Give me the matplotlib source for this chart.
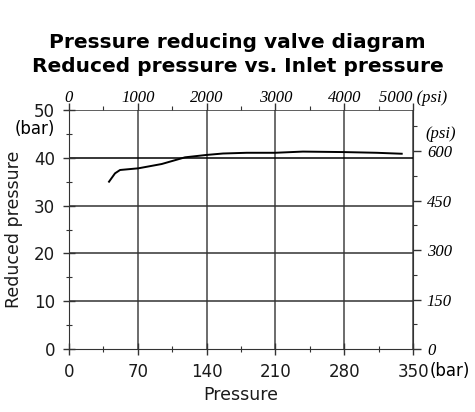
import matplotlib
matplotlib.use("Agg")
import matplotlib.pyplot as plt
import numpy as np

# inlet pressure (bar) vs reduced pressure (bar)
inlet_bar = [40.7, 46.8, 51.9, 70.5, 94.3, 118, 140, 156.7, 180.8, 209.6, 238, 279, 313, 338.5]
reduced_bar = [35.0, 36.75, 37.45, 37.8, 38.7, 40.1, 40.6, 40.9, 41.05, 41.05, 41.3, 41.2, 41.05, 40.85]

x_ticks = [0, 70, 140, 210, 280, 350]
y_ticks = [0, 10, 20, 30, 40, 50]
psi_top_ticks = [0, 1000, 2000, 3000, 4000, 5000]
psi_right_ticks = [0, 150, 300, 450, 600]

BAR_TO_PSI_TOP = 1000 / 70
BAR_TO_PSI = 14.5

serif_it = dict(family="Liberation Serif", style="italic", size=12)

fig = plt.figure(figsize=(4.75, 4.12), dpi=100)
ax = fig.add_axes([0.1453, 0.1529, 0.7242, 0.5801])

ax.plot(inlet_bar, reduced_bar, color="black", lw=1.4, zorder=3)

ax.set_xlim(0, 350)
ax.set_ylim(0, 50)
ax.set_xticks(x_ticks)
ax.set_xticks(np.arange(35, 350, 70), minor=True)
ax.set_yticks(y_ticks)
ax.set_yticks(np.arange(5, 50, 10), minor=True)
ax.set_xticklabels([str(v) for v in x_ticks], fontsize=12, color="#1a1a1a")
ax.set_yticklabels([str(v) for v in y_ticks], fontsize=12, color="#1a1a1a")
ax.tick_params(which="major", direction="inout", length=8, width=1, color="#333333")
ax.tick_params(axis="x", which="major", pad=6)
ax.tick_params(axis="y", which="major", pad=6)
ax.tick_params(which="minor", direction="inout", length=4, width=0.8, color="#333333")

for s in ["top", "right"]:
    ax.spines[s].set_visible(False)
for s in ["left", "bottom"]:
    ax.spines[s].set_color("#333333")

# grid
for v in x_ticks[1:]:
    ax.axvline(v, color="#444444", lw=1.1, zorder=1)
for v in y_ticks[1:]:
    ax.axhline(v, color="black" if v == 40 else "#333333", lw=1.1, zorder=1)

# top psi axis
top = ax.secondary_xaxis("top", functions=(lambda b: b * BAR_TO_PSI_TOP, lambda p: p / BAR_TO_PSI_TOP))
top.set_xticks(psi_top_ticks)
top.set_xticks(np.arange(500, 5000, 1000), minor=True)
top.set_xticklabels(["0", "1000", "2000", "3000", "4000", "5000 (psi)"], **serif_it)
top.spines["top"].set_visible(False)
top.tick_params(which="major", direction="out", length=5, width=1, color="#333333", pad=-2)
top.tick_params(which="minor", direction="out", length=3, width=0.8, color="#333333")

# right psi axis
right = ax.secondary_yaxis("right", functions=(lambda b: b * BAR_TO_PSI, lambda p: p / BAR_TO_PSI))
right.set_yticks(psi_right_ticks)
right.set_yticks(np.arange(75, 700, 150), minor=True)
right.set_yticklabels([str(v) for v in psi_right_ticks], **serif_it)
right.spines["right"].set_color("#333333")
right.tick_params(which="major", direction="out", length=6, width=1, color="#333333", pad=4)
right.tick_params(which="minor", direction="out", length=3, width=0.8, color="#333333")
ax.text(1.035, 0.9, "(psi)", transform=ax.transAxes, ha="left", va="center", **serif_it)

ax.text(-0.04, 0.92, "(bar)", transform=ax.transAxes, ha="right", va="center", fontsize=12,
        color="black")
ax.text(1.049, -0.09, "(bar)", transform=ax.transAxes, ha="left", va="center", fontsize=12,
        color="black")

ax.set_xlabel("Pressure", fontsize=12.5, color="#1a1a1a", labelpad=4)
ax.set_ylabel("Reduced pressure", fontsize=12.5, color="#1a1a1a", labelpad=8)

fig.suptitle("Pressure reducing valve diagram\nReduced pressure vs. Inlet pressure",
             fontsize=14.5, fontweight="bold", y=0.92, linespacing=1.35)

fig.savefig("out.png", dpi=100)
